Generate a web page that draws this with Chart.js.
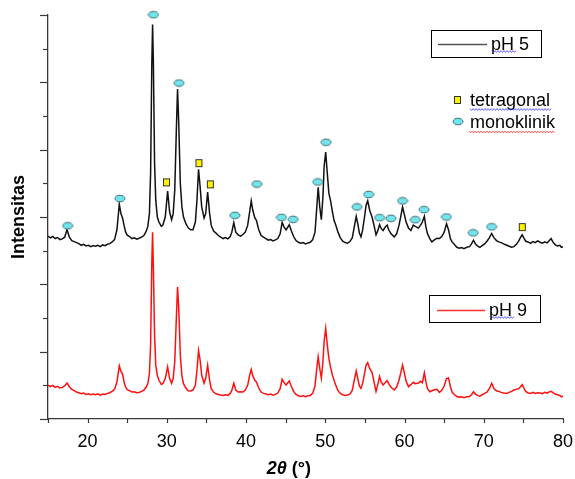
<!DOCTYPE html>
<html>
<head>
<meta charset="utf-8">
<script src="https://cdn.jsdelivr.net/npm/chart.js@4"></script>
<style>
  html, body { margin: 0; padding: 0; background: #fff; }
  canvas { display: block; }
</style>
</head>
<body>
<canvas id="xrd" width="575" height="479"></canvas>
<script>
// 2theta grid shared by both patterns
const twoTheta = [
  15.0, 15.3, 15.6, 15.9, 16.2, 16.5, 16.8, 17.1, 17.4, 17.7,
  18.0, 18.3, 18.6, 18.9, 19.2, 19.5, 19.8, 20.1, 20.4, 20.7,
  21.0, 21.3, 21.6, 21.9, 22.2, 22.5, 22.8, 23.1, 23.4, 23.7,
  24.0, 24.2, 24.4, 24.6, 24.8, 25.0, 25.3, 25.6, 25.9, 26.2,
  26.5, 26.8, 27.1, 27.4, 27.6, 27.8, 27.95, 28.1, 28.2, 28.3,
  28.45, 28.6, 28.8, 29.0, 29.3, 29.5, 29.8, 30.1, 30.35, 30.6,
  30.8, 31.0, 31.2, 31.35, 31.5, 31.7, 31.9, 32.1, 32.4, 32.7,
  33.0, 33.3, 33.6, 33.8, 34.0, 34.2, 34.4, 34.7, 34.9, 35.15,
  35.4, 35.6, 35.9, 36.2, 36.5, 36.8, 37.1, 37.4, 37.7, 38.0,
  38.2, 38.45, 38.7, 39.0, 39.3, 39.6, 39.9, 40.2, 40.45, 40.65,
  40.85, 41.1, 41.3, 41.6, 41.9, 42.2, 42.5, 42.8, 43.1, 43.4,
  43.7, 44.0, 44.3, 44.55, 44.8, 45.05, 45.45, 45.7, 46.0, 46.3,
  46.6, 46.9, 47.2, 47.5, 47.8, 48.1, 48.4, 48.7, 48.9, 49.1,
  49.3, 49.5, 49.7, 49.85, 50.05, 50.25, 50.45, 50.65, 50.9, 51.1,
  51.3, 51.6, 51.9, 52.2, 52.5, 52.8, 53.1, 53.4, 53.65, 53.9,
  54.1, 54.3, 54.5, 54.7, 54.95, 55.15, 55.35, 55.6, 55.9, 56.15,
  56.4, 56.6, 56.85, 57.05, 57.3, 57.55, 57.8, 58.0, 58.3, 58.7,
  59.0, 59.3, 59.55, 59.75, 59.95, 60.2, 60.5, 60.8, 61.1, 61.35,
  61.75, 62.0, 62.25, 62.5, 62.7, 62.9, 63.2, 63.45, 63.8, 64.1,
  64.4, 64.7, 65.0, 65.3, 65.55, 65.8, 66.0, 66.3, 66.6, 66.9,
  67.2, 67.5, 67.85, 68.2, 68.45, 68.7, 68.95, 69.2, 69.5, 69.8,
  70.1, 70.4, 70.7, 71.0, 71.3, 71.6, 71.9, 72.2, 72.5, 72.9,
  73.2, 73.5, 73.8, 74.1, 74.4, 74.6, 74.85, 75.1, 75.3, 75.6,
  75.9, 76.2, 76.5, 76.8, 77.1, 77.4, 77.7, 78.0, 78.2, 78.5,
  78.75, 79.0, 79.3, 79.6, 79.8, 80.0
];

// pH 5 pattern (offset upward in the plot)
const pH5 = [
  5.43, 5.38, 5.42, 5.36, 5.39, 5.33, 5.35, 5.40, 5.62, 5.40,
  5.30, 5.27, 5.24, 5.21, 5.16, 5.19, 5.14, 5.16, 5.12, 5.15,
  5.13, 5.16, 5.12, 5.17, 5.15, 5.19, 5.21, 5.26, 5.33, 5.62,
  6.38, 6.10, 5.98, 5.75, 5.55, 5.46, 5.42, 5.36, 5.38, 5.34,
  5.37, 5.40, 5.45, 5.58, 5.72, 6.10, 7.30, 10.50, 11.72, 10.60,
  7.60, 6.50, 6.00, 5.85, 5.72, 5.76, 6.00, 6.77, 6.15, 5.92,
  6.10, 6.80, 8.60, 9.80, 8.80, 7.00, 6.30, 6.00, 5.80, 5.68,
  5.62, 5.62, 5.85, 6.50, 7.42, 6.90, 6.30, 5.97, 6.10, 6.74,
  6.10, 5.75, 5.58, 5.52, 5.45, 5.40, 5.36, 5.39, 5.35, 5.42,
  5.55, 5.83, 5.55, 5.47, 5.43, 5.48, 5.55, 5.75, 6.15, 6.48,
  6.20, 5.98, 5.90, 5.62, 5.45, 5.40, 5.36, 5.31, 5.33, 5.29,
  5.32, 5.36, 5.50, 5.84, 5.70, 5.62, 5.77, 5.60, 5.42, 5.30,
  5.25, 5.22, 5.24, 5.20, 5.23, 5.25, 5.32, 5.55, 6.20, 6.88,
  6.30, 5.92, 6.60, 7.50, 7.93, 7.30, 6.70, 6.50, 6.15, 5.90,
  5.78, 5.55, 5.38, 5.28, 5.24, 5.22, 5.27, 5.38, 5.70, 6.02,
  5.80, 5.52, 5.41, 5.60, 6.00, 6.35, 6.48, 6.20, 6.00, 5.75,
  5.47, 5.58, 5.77, 5.66, 5.60, 5.70, 5.76, 5.62, 5.50, 5.41,
  5.50, 5.75, 6.05, 6.30, 6.10, 5.85, 5.67, 5.60, 5.76, 5.72,
  5.67, 5.75, 5.85, 6.02, 5.70, 5.50, 5.35, 5.26, 5.33, 5.37,
  5.36, 5.42, 5.55, 5.80, 5.62, 5.35, 5.26, 5.18, 5.10, 5.07,
  5.09, 5.06, 5.10, 5.12, 5.20, 5.31, 5.20, 5.14, 5.10, 5.15,
  5.20, 5.28, 5.38, 5.51, 5.38, 5.30, 5.26, 5.24, 5.20, 5.16,
  5.13, 5.10, 5.12, 5.18, 5.28, 5.38, 5.47, 5.36, 5.28, 5.26,
  5.22, 5.27, 5.24, 5.29, 5.25, 5.22, 5.26, 5.23, 5.28, 5.36,
  5.25, 5.18, 5.14, 5.16, 5.10, 5.12
];

// pH 9 pattern
const pH9 = [
  1.01, 0.96, 1.00, 0.94, 0.97, 0.92, 0.94, 0.98, 1.07, 0.96,
  0.88, 0.84, 0.80, 0.78, 0.75, 0.77, 0.73, 0.75, 0.72, 0.74,
  0.72, 0.75, 0.71, 0.74, 0.73, 0.76, 0.78, 0.82, 0.88, 1.10,
  1.58, 1.42, 1.34, 1.10, 0.95, 0.87, 0.84, 0.80, 0.81, 0.78,
  0.79, 0.82, 0.86, 0.95, 1.05, 1.35, 2.20, 4.60, 5.55, 4.50,
  2.50, 1.60, 1.30, 1.15, 1.03, 1.05, 1.20, 1.55, 1.20, 1.06,
  1.20, 1.70, 3.00, 3.92, 3.30, 1.90, 1.28, 1.05, 0.92, 0.84,
  0.83, 0.86, 1.00, 1.45, 2.03, 1.75, 1.30, 1.06, 1.20, 1.60,
  1.15, 0.90, 0.80, 0.75, 0.73, 0.71, 0.70, 0.72, 0.70, 0.76,
  0.85, 1.06, 0.86, 0.80, 0.81, 0.80, 0.86, 1.00, 1.30, 1.47,
  1.28, 1.15, 1.10, 0.92, 0.80, 0.76, 0.74, 0.72, 0.74, 0.71,
  0.73, 0.77, 0.90, 1.18, 1.08, 1.01, 1.13, 0.98, 0.82, 0.73,
  0.69, 0.67, 0.69, 0.66, 0.69, 0.70, 0.76, 0.98, 1.45, 1.85,
  1.50, 1.21, 1.70, 2.30, 2.69, 2.20, 1.80, 1.55, 1.30, 1.15,
  1.02, 0.84, 0.76, 0.72, 0.70, 0.71, 0.74, 0.85, 1.15, 1.43,
  1.20, 0.98, 0.91, 1.05, 1.35, 1.60, 1.67, 1.50, 1.38, 1.10,
  0.82, 1.00, 1.26, 1.10, 1.01, 1.08, 1.14, 1.05, 0.94, 0.86,
  0.95, 1.15, 1.40, 1.60, 1.40, 1.12, 0.96, 1.02, 1.09, 1.05,
  1.07, 1.12, 1.08, 1.37, 1.10, 0.90, 0.81, 0.84, 0.87, 0.88,
  0.79, 0.85, 0.98, 1.20, 1.22, 0.95, 0.80, 0.72, 0.67, 0.65,
  0.66, 0.63, 0.66, 0.67, 0.72, 0.81, 0.74, 0.70, 0.68, 0.72,
  0.76, 0.80, 0.90, 1.06, 0.90, 0.84, 0.82, 0.79, 0.77, 0.76,
  0.79, 0.82, 0.86, 0.88, 0.90, 0.95, 1.02, 0.90, 0.82, 0.77,
  0.76, 0.79, 0.76, 0.78, 0.77, 0.75, 0.79, 0.77, 0.80, 0.82,
  0.78, 0.74, 0.72, 0.70, 0.66, 0.68
];

// phase markers placed above the pH 5 peaks
const monoklinikAngles = [17.48, 24.07, 28.31, 31.54, 38.59, 41.36, 44.47, 45.94, 49.04, 50.1,
                          54.0, 55.48, 56.85, 58.29, 59.75, 61.35, 62.47, 65.29, 68.66, 70.99];
const monoklinikHeights = [5.74, 6.55, 12.01, 9.98, 6.05, 6.98, 5.99, 5.93, 7.04, 8.22,
                           6.30, 6.67, 5.98, 5.96, 6.48, 5.92, 6.22, 6.00, 5.53, 5.71];
const tetragonalAngles = [29.95, 34.05, 35.49, 74.86];
const tetragonalHeights = [7.03, 7.60, 6.97, 5.70];

const xTickLabels = [20, 30, 40, 50, 60, 70, 80];

const FONT = "'Liberation Sans', Arial, sans-serif";
const AXIS = '#3a3a3a';

function makeMark(w, h, paint) {
  const c = document.createElement('canvas');
  c.width = w; c.height = h;
  paint(c.getContext('2d'));
  return c;
}
const ovalMark = makeMark(12, 9, ctx => {
  ctx.beginPath();
  ctx.ellipse(6, 4.5, 5, 3.3, 0, 0, Math.PI * 2);
  ctx.fillStyle = '#72e4ec';
  ctx.fill();
  ctx.lineWidth = 1;
  ctx.strokeStyle = '#3f6f74';
  ctx.stroke();
});
const squareMark = makeMark(9, 10, ctx => {
  ctx.fillStyle = '#fff200';
  ctx.fillRect(1, 1, 7, 8);
  ctx.lineWidth = 1;
  ctx.strokeStyle = '#333';
  ctx.strokeRect(1.5, 1.5, 6, 7);
});

const toPoints = (xs, ys) => xs.map((v, i) => ({ x: v, y: ys[i] }));

function wavy(ctx, x0, x1, y, color) {
  ctx.save();
  ctx.strokeStyle = color;
  ctx.lineWidth = 0.8;
  ctx.beginPath();
  for (let px = x0, k = 0; px <= x1; px += 1.5, k++) {
    const py = y + (k % 2 ? 1 : -1) * 0.9;
    if (k === 0) ctx.moveTo(px, py); else ctx.lineTo(px, py);
  }
  ctx.stroke();
  ctx.restore();
}

const decorations = {
  id: 'decorations',
  afterDraw(chart) {
    const { ctx, scales: { x, y } } = chart;
    ctx.save();
    ctx.strokeStyle = AXIS;
    ctx.lineWidth = 1.2;
    // y tick marks: long every 2, short in between
    for (let v = 0; v <= 12; v++) {
      const py = Math.round(y.getPixelForValue(v)) + 0.5;
      const len = v % 2 === 0 ? 8 : 5;
      ctx.beginPath();
      ctx.moveTo(x.left, py);
      ctx.lineTo(x.left - len, py);
      ctx.stroke();
    }
    // x tick marks every 5
    for (let v = 15; v <= 80; v += 5) {
      const px = Math.round(x.getPixelForValue(v)) + 0.5;
      ctx.beginPath();
      ctx.moveTo(px, y.bottom);
      ctx.lineTo(px, y.bottom + 4);
      ctx.stroke();
    }

    // x axis title: 2θ (°)
    ctx.fillStyle = '#000';
    ctx.textBaseline = 'middle';
    const p1 = '2θ', p2 = ' (°)';
    ctx.font = `italic bold 18px ${FONT}`;
    const w1 = ctx.measureText(p1).width;
    ctx.font = `bold 18px ${FONT}`;
    const w2 = ctx.measureText(p2).width;
    const tx = x.getPixelForValue(45.4) - (w1 + w2) / 2;
    ctx.font = `italic bold 18px ${FONT}`;
    ctx.fillText(p1, tx, 469);
    ctx.font = `bold 18px ${FONT}`;
    ctx.fillText(p2, tx + w1, 469);

    // legend boxes
    ctx.font = `18px ${FONT}`;
    ctx.textBaseline = 'alphabetic';
    ctx.lineWidth = 1;
    ctx.strokeStyle = '#000';
    ctx.strokeRect(431.5, 30.5, 110, 27);
    ctx.strokeRect(429.5, 295.5, 111, 27);

    ctx.lineWidth = 1.4;
    ctx.strokeStyle = '#555';
    ctx.beginPath(); ctx.moveTo(438, 44.5); ctx.lineTo(487, 44.5); ctx.stroke();
    ctx.strokeStyle = '#ff3030';
    ctx.beginPath(); ctx.moveTo(437, 310.5); ctx.lineTo(485, 310.5); ctx.stroke();

    ctx.fillText('pH 5', 491, 50);
    ctx.fillText('pH 9', 489, 316);
    wavy(ctx, 492, 516, 51.5, '#3c3cff');
    wavy(ctx, 490, 514, 317.5, '#3c3cff');

    // phase legend
    ctx.drawImage(squareMark, 453, 95);
    ctx.drawImage(ovalMark, 452, 117);
    ctx.fillText('tetragonal', 470, 106);
    ctx.fillText('monoklinik', 470, 128);
    wavy(ctx, 470, 551, 109.5, '#3c3cff');
    wavy(ctx, 469, 555, 132, '#ff3030');
    ctx.restore();
  }
};

new Chart(document.getElementById('xrd'), {
  type: 'scatter',
  data: {
    datasets: [
      {
        label: 'monoklinik',
        data: toPoints(monoklinikAngles, monoklinikHeights),
        pointStyle: ovalMark,
        pointRadius: 6,
        showLine: false,
        clip: false,
        order: 0,
      },
      {
        label: 'tetragonal',
        data: toPoints(tetragonalAngles, tetragonalHeights),
        pointStyle: squareMark,
        pointRadius: 6,
        showLine: false,
        clip: false,
        order: 0,
      },
      {
        label: 'pH 5',
        data: toPoints(twoTheta, pH5),
        showLine: true,
        borderColor: '#111',
        borderWidth: 1.5,
        pointRadius: 0,
        order: 1,
      },
      {
        label: 'pH 9',
        data: toPoints(twoTheta, pH9),
        showLine: true,
        borderColor: '#ff1010',
        borderWidth: 1.5,
        pointRadius: 0,
        order: 1,
      },
    ],
  },
  options: {
    responsive: false,
    animation: false,
    layout: { padding: { left: 0, top: 15, right: 12, bottom: 0 } },
    plugins: {
      legend: { display: false },
      tooltip: { enabled: false },
    },
    scales: {
      x: {
        type: 'linear',
        min: 15,
        max: 80,
        afterBuildTicks: s => { s.ticks = xTickLabels.map(v => ({ value: v })); },
        afterFit: s => { s.height = 60; s.paddingLeft = 0; s.paddingRight = 0; },
        grid: { display: true, drawOnChartArea: false, drawTicks: false },
        border: { display: true, color: AXIS, width: 1.3 },
        ticks: { color: '#000', padding: 12, font: { family: FONT, size: 18 } },
      },
      y: {
        min: 0,
        max: 12,
        afterFit: s => { s.width = 48; s.paddingTop = 0; s.paddingBottom = 0; },
        grid: { display: true, drawOnChartArea: false, drawTicks: false },
        border: { display: true, color: AXIS, width: 1.3 },
        ticks: { display: false, stepSize: 1 },
        title: {
          display: true,
          text: 'Intensitas',
          color: '#000',
          padding: { top: 8, bottom: 0 },
          font: { family: FONT, size: 18, weight: 'bold' },
        },
      },
    },
  },
  plugins: [decorations],
});
</script>
</body>
</html>
